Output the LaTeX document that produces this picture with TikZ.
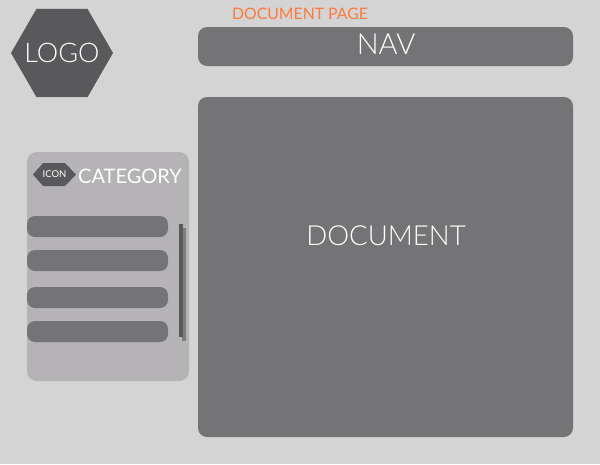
\documentclass[tikz,border=0pt]{standalone}
\usepackage{fontspec}
\setmainfont{Lato Light}
\newfontfamily\labelfont{Lato}
\usetikzlibrary{shapes.geometric}
\definecolor{pagebg}{HTML}{D5D4D5}
\definecolor{blockgray}{HTML}{747476}
\definecolor{panelgray}{HTML}{B5B3B5}
\definecolor{hexgray}{HTML}{59595B}
\definecolor{orangetext}{HTML}{FB7A3C}
\begin{document}
\begin{tikzpicture}[x=1pt, y=-1pt,
    block/.style = {fill=blockgray, rounded corners=9pt, inner sep=0pt},
    item/.style = {fill=blockgray, rounded corners=8pt, minimum width=141pt, minimum height=21pt, inner sep=0pt}]
      \useasboundingbox (0,0) rectangle (600,464);
      \fill[pagebg] (0,0) rectangle (600,464);
      \node[regular polygon, regular polygon sides=6, fill=hexgray, minimum size=102pt, inner sep=0pt] (logo) at (62,53) {};
      \node[text=white, font=\fontsize{27}{27}\selectfont] (logolabel) at (62,53) {LOGO};
      \node[text=orangetext, font=\labelfont\fontsize{15.8}{16}\selectfont] (title) at (300,13.5) {DOCUMENT PAGE};
      \node[block, minimum width=375pt, minimum height=39pt] (nav) at (385.5,46.5) {};
      \node[text=white, font=\fontsize{29}{29}\selectfont] (navlabel) at (386,44) {NAV};
      \node[block, minimum width=375pt, minimum height=340pt] (doc) at (385.5,267) {};
      \node[text=white, font=\fontsize{27.6}{28}\selectfont] (doclabel) at (386,236) {DOCUMENT};
      \node[fill=panelgray, rounded corners=10pt, minimum width=162pt, minimum height=229pt, inner sep=0pt] (panel) at (108,266.5) {};
      \fill[hexgray] (33,174.5) -- (43,163) -- (65,163) -- (76,174.5) -- (65,186) -- (43,186) -- cycle;
      \node[text=white, font=\labelfont\fontsize{9.5}{10}\selectfont] (icon) at (54.5,174) {ICON};
      \node[text=white, font=\labelfont\fontsize{20}{20}\selectfont] (category) at (130,176) {CATEGORY};
      \node[item] (item1) at (97.5,226.5) {};
      \node[item] (item2) at (97.5,260.5) {};
      \node[item] (item3) at (97.5,297.5) {};
      \node[item] (item4) at (97.5,331.5) {};
      \node[fill=hexgray!60!panelgray, minimum width=4pt, minimum height=113pt, inner sep=0pt] (shadow) at (184,284.5) {};
      \node[fill=hexgray, minimum width=3.5pt, minimum height=113pt, inner sep=0pt] (scroll) at (180.75,280.5) {};
    \end{tikzpicture}
\end{document}
